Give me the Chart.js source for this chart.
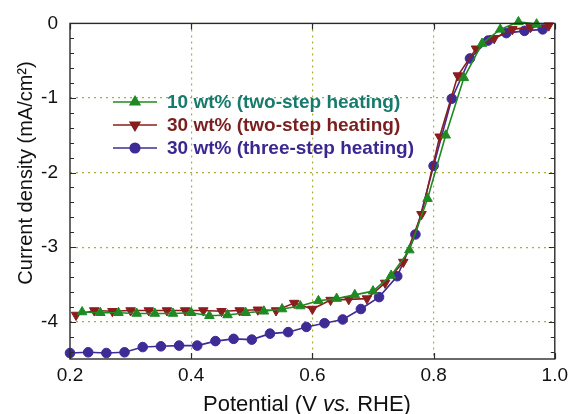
<!DOCTYPE html>
<html>
<head>
<meta charset="utf-8">
<script src="https://cdn.jsdelivr.net/npm/chart.js@4"></script>
<style>
html,body{margin:0;padding:0;background:#fff}
</style>
</head>
<body>
<canvas id="chart" width="573" height="414"></canvas>
<script>
// DATA
const v10two = [0.22,0.25,0.28,0.31,0.34,0.37,0.40,0.43,0.46,0.49,0.52,0.55,0.58,0.61,0.64,0.67,0.70,0.73,0.76,0.79,0.82,0.85,0.88,0.91,0.94,0.97];
const j10two = [-3.87,-3.88,-3.88,-3.89,-3.89,-3.89,-3.88,-3.92,-3.91,-3.88,-3.86,-3.83,-3.79,-3.72,-3.69,-3.64,-3.59,-3.38,-3.04,-2.35,-1.50,-0.73,-0.27,-0.08,0.02,-0.01];

const v30two = [0.21,0.24,0.27,0.30,0.33,0.36,0.39,0.42,0.45,0.48,0.51,0.54,0.57,0.60,0.63,0.66,0.69,0.72,0.75,0.78,0.81,0.84,0.87,0.90,0.93,0.96,0.99];
const j30two = [-3.91,-3.85,-3.86,-3.85,-3.85,-3.85,-3.85,-3.85,-3.86,-3.85,-3.84,-3.85,-3.75,-3.83,-3.71,-3.70,-3.69,-3.48,-3.20,-2.56,-1.52,-0.70,-0.34,-0.20,-0.08,-0.05,-0.03];

const v30three = [0.20,0.23,0.26,0.29,0.32,0.35,0.38,0.41,0.44,0.47,0.50,0.53,0.56,0.59,0.62,0.65,0.68,0.71,0.74,0.77,0.80,0.83,0.86,0.89,0.92,0.95,0.98];
const j30three = [-4.42,-4.41,-4.42,-4.41,-4.34,-4.33,-4.32,-4.32,-4.26,-4.23,-4.24,-4.16,-4.14,-4.07,-4.02,-3.97,-3.83,-3.67,-3.39,-2.83,-1.91,-1.01,-0.47,-0.23,-0.13,-0.10,-0.08];

const seriesLabels = ["10 wt% (two-step heating)","30 wt% (two-step heating)","30 wt% (three-step heating)"];
const lineColors = ["#1f8a22","#8a1d1d","#3f2b96"];
const textColors = ["#177a6c","#7a1f1f","#3b2790"];

const xTicks = [0.2,0.4,0.6,0.8,1.0];
const yTicks = [0,-1,-2,-3,-4];

function pts(xs, ys){ return xs.map((x,i)=>({x:x,y:ys[i]})); }

const FONT = "'Liberation Sans', Arial, sans-serif";

// frame, inner ticks, legend and axis titles
const decor = {
  id:"decor",
  afterDraw(chart){
    const {ctx, chartArea:a, scales:{x,y}} = chart;
    ctx.save();
    ctx.strokeStyle = "#2a2a2a";
    ctx.lineWidth = 1.4;
    ctx.strokeRect(a.left, a.top, a.right-a.left, a.bottom-a.top);

    ctx.lineWidth = 1.2;
    ctx.beginPath();
    for(let k=0;k<=22;k++){
      const py = Math.round(y.getPixelForValue(-k*0.2))+0.5;
      const len = (k%5===0) ? 6 : 4;
      ctx.moveTo(a.left,py); ctx.lineTo(a.left+len,py);
      ctx.moveTo(a.right,py); ctx.lineTo(a.right-len,py);
    }
    xTicks.forEach(v=>{
      const px = Math.round(x.getPixelForValue(v))+0.5;
      ctx.moveTo(px,a.bottom); ctx.lineTo(px,a.bottom-6);
      ctx.moveTo(px,a.top); ctx.lineTo(px,a.top+6);
    });
    ctx.stroke();

    // legend
    const rows = [102,125,148];
    chart.data.datasets.forEach((ds,i)=>{
      const ly = rows[i];
      ctx.strokeStyle = ds.borderColor;
      ctx.lineWidth = 1.6;
      ctx.beginPath(); ctx.moveTo(113,ly); ctx.lineTo(157,ly); ctx.stroke();
      Chart.helpers.drawPoint(ctx,{pointStyle:ds.pointStyle,rotation:ds.rotation||0,radius:ds.pointRadius,borderWidth:1},135,ly);
      ctx.fillStyle = ds.backgroundColor;
      ctx.fill();
      ctx.fillStyle = textColors[i];
      ctx.font = "bold 19px " + FONT;
      ctx.textAlign = "left"; ctx.textBaseline = "middle";
      ctx.fillText(ds.label,167,ly+1);
    });

    // x title with italic "vs."
    ctx.fillStyle = "#111";
    ctx.textBaseline = "alphabetic";
    const parts = [["Potential (V ","normal"],["vs.","italic"],[" RHE)","normal"]];
    let w = 0;
    parts.forEach(p=>{ ctx.font = p[1]+" 22px "+FONT; w += ctx.measureText(p[0]).width; });
    let cx = 307 - w/2;
    parts.forEach(p=>{ ctx.font = p[1]+" 22px "+FONT; ctx.fillText(p[0],cx,411); cx += ctx.measureText(p[0]).width; });

    // y title
    ctx.translate(32,173);
    ctx.rotate(-Math.PI/2);
    ctx.font = "20px " + FONT;
    ctx.textAlign = "center";
    ctx.fillText("Current density (mA/cm\u00B2)",0,0);
    ctx.restore();
  }
};

const gridColor = "#adac38";

new Chart(document.getElementById("chart"),{
  type:"scatter",
  data:{
    datasets:[
      {label:seriesLabels[0],data:pts(v10two,j10two),showLine:true,borderColor:lineColors[0],backgroundColor:lineColors[0],
       borderWidth:1.6,pointStyle:"triangle",pointRadius:5.5,pointBorderWidth:1,clip:false},
      {label:seriesLabels[1],data:pts(v30two,j30two),showLine:true,borderColor:lineColors[1],backgroundColor:lineColors[1],
       borderWidth:1.6,pointStyle:"triangle",rotation:180,pointRotation:180,pointRadius:5.5,pointBorderWidth:1,clip:false},
      {label:seriesLabels[2],data:pts(v30three,j30three),showLine:true,borderColor:lineColors[2],backgroundColor:lineColors[2],
       borderWidth:1.6,pointStyle:"circle",pointRadius:4.8,pointBorderWidth:1,clip:false}
    ]
  },
  options:{
    responsive:false,
    animation:false,
    devicePixelRatio:1,
    layout:{padding:{top:17,right:14,left:0,bottom:0}},
    plugins:{legend:{display:false},tooltip:{enabled:false}},
    scales:{
      x:{
        type:"linear",min:0.2,max:1.0,
        afterBuildTicks:s=>{ s.ticks = xTicks.map(v=>({value:v})); },
        afterFit:s=>{ s.height = 55; },
        ticks:{padding:5,color:"#111",font:{family:FONT,size:19},callback:v=>v.toFixed(1),maxRotation:0},
        grid:{drawTicks:false,lineWidth:1.2,color:c=>(c.tick && c.tick.value>0.25 && c.tick.value<0.95)?gridColor:"rgba(0,0,0,0)"},
        border:{display:false,dash:[2,4]}
      },
      y:{
        type:"linear",min:-4.5,max:0,
        afterBuildTicks:s=>{ s.ticks = yTicks.map(v=>({value:v})); },
        afterFit:s=>{ s.width = 70; },
        ticks:{padding:12,color:"#111",font:{family:FONT,size:19},callback:v=>String(v)},
        grid:{drawTicks:false,lineWidth:1.2,color:c=>(c.tick && c.tick.value<-0.5)?gridColor:"rgba(0,0,0,0)"},
        border:{display:false,dash:[2,4]}
      }
    }
  },
  plugins:[decor]
});
</script>
</body>
</html>
